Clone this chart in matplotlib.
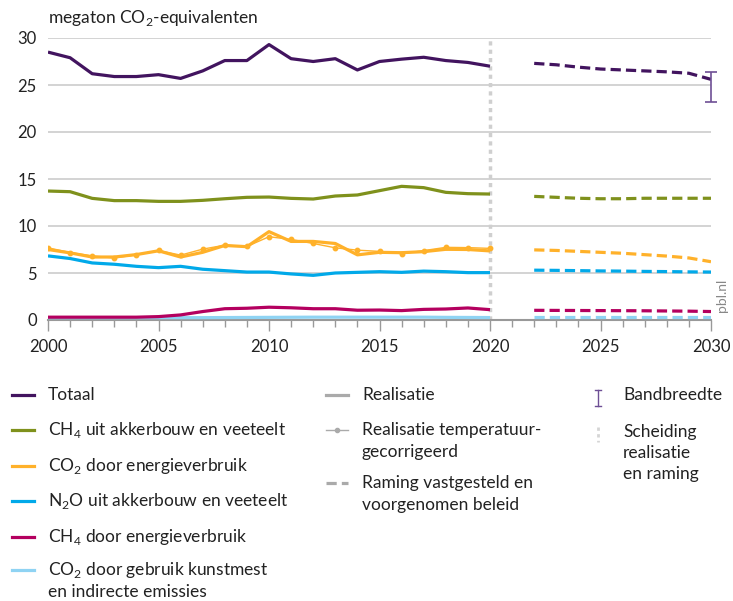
import matplotlib.pyplot as plt
from matplotlib.lines import Line2D
import numpy as np

plt.rcParams['font.family'] = ['Lato', 'DejaVu Sans']
plt.rcParams['mathtext.fontset'] = 'custom'
plt.rcParams['mathtext.rm'] = 'Lato'

years = np.arange(2000, 2021)
proj_years = np.arange(2022, 2031)

totaal = [28.5, 27.9, 26.2, 25.9, 25.9, 26.1, 25.7, 26.5, 27.6, 27.6, 29.3,
          27.8, 27.5, 27.8, 26.6, 27.5, 27.75, 27.95, 27.6, 27.4, 27.0]
ch4_landbouw = [13.72, 13.65, 12.94, 12.7, 12.7, 12.62, 12.62, 12.73, 12.9, 13.05, 13.08,
                12.94, 12.87, 13.19, 13.3, 13.76, 14.22, 14.08, 13.58, 13.44, 13.4]
co2_energie = [7.5, 7.14, 6.7, 6.7, 6.96, 7.36, 6.7, 7.2, 7.93, 7.8, 9.4,
               8.36, 8.36, 8.14, 6.93, 7.2, 7.16, 7.27, 7.52, 7.5, 7.35]
co2_energie_temp = [7.68, 7.18, 6.82, 6.6, 6.93, 7.4, 6.9, 7.54, 7.96, 7.82, 8.86,
                    8.57, 8.14, 7.68, 7.43, 7.3, 7.06, 7.38, 7.73, 7.7, 7.62]
n2o_landbouw = [6.82, 6.54, 6.07, 5.93, 5.71, 5.57, 5.71, 5.4, 5.25, 5.1, 5.1,
                4.9, 4.75, 5.0, 5.07, 5.14, 5.07, 5.2, 5.14, 5.04, 5.04]
ch4_energie = [0.3, 0.3, 0.3, 0.3, 0.3, 0.36, 0.54, 0.9, 1.2, 1.25, 1.36,
               1.3, 1.2, 1.2, 1.04, 1.06, 1.0, 1.13, 1.17, 1.28, 1.1]
co2_kunstmest = [0.25, 0.25, 0.25, 0.25, 0.25, 0.25, 0.25, 0.25, 0.26, 0.27, 0.28,
                 0.29, 0.3, 0.3, 0.3, 0.3, 0.3, 0.3, 0.28, 0.27, 0.26]

totaal_proj = [27.3, 27.15, 26.9, 26.7, 26.6, 26.5, 26.4, 26.25, 25.6]
ch4_landbouw_proj = [13.15, 13.05, 12.95, 12.9, 12.9, 12.95, 12.95, 12.95, 12.95]
co2_energie_proj = [7.46, 7.4, 7.3, 7.2, 7.1, 6.95, 6.8, 6.6, 6.2]
n2o_landbouw_proj = [5.3, 5.28, 5.25, 5.22, 5.2, 5.17, 5.15, 5.12, 5.1]
ch4_energie_proj = [1.03, 1.02, 1.01, 1.0, 0.99, 0.98, 0.96, 0.94, 0.9]
co2_kunstmest_proj = [0.28, 0.28, 0.28, 0.28, 0.28, 0.28, 0.28, 0.28, 0.28]

bandbreedte = (23.2, 26.4)

c_totaal = '#42145f'
c_ch4_lb = '#7f911c'
c_co2_en = '#ffb12a'
c_n2o = '#01a9e9'
c_ch4_en = '#b4005f'
c_kunstmest = '#8fd3f3'
c_band = '#6e4f95'
grey = '#999999'

fig = plt.figure(figsize=(7.33, 6.01), dpi=100)
ax = fig.add_axes([48 / 733, 1 - 320 / 601, (711 - 48) / 733, (320 - 38) / 601])

lw = 2.3
series = [
    (co2_kunstmest, co2_kunstmest_proj, c_kunstmest),
    (ch4_energie, ch4_energie_proj, c_ch4_en),
    (n2o_landbouw, n2o_landbouw_proj, c_n2o),
    (co2_energie, co2_energie_proj, c_co2_en),
    (ch4_landbouw, ch4_landbouw_proj, c_ch4_lb),
    (totaal, totaal_proj, c_totaal),
]
for real, proj, col in series:
    ax.plot(years, real, color=col, lw=lw, solid_capstyle='butt', zorder=3)
    ax.plot(proj_years, proj, color=col, lw=lw, dashes=(3.2, 1.6), zorder=3)

ax.plot(years, co2_energie_temp, color=c_co2_en, lw=1.0, marker='o', ms=3.2, zorder=4)

# bandwidth for the total in 2030
mid = np.mean(bandbreedte)
ax.errorbar([2030], [mid], yerr=[[mid - bandbreedte[0]], [bandbreedte[1] - mid]],
            color=c_band, lw=1.2, capsize=4, capthick=1.2, zorder=5, clip_on=False)

# separation between realisation and projection
ax.axvline(2020, color='#cfcfcf', lw=2.5, ls=(0, (1.2, 1.2)), zorder=2)

ax.set_xlim(2000, 2030)
ax.set_ylim(0, 30)
ax.set_yticks(range(0, 31, 5))
ax.set_xticks(range(2000, 2031, 5))
ax.set_xticks(range(2000, 2031), minor=True)
ax.grid(axis='y', color='#cccccc', lw=1.2, zorder=0)
for s in ['top', 'right', 'left']:
    ax.spines[s].set_visible(False)
ax.spines['bottom'].set_color(grey)
ax.spines['bottom'].set_linewidth(1.5)
ax.tick_params(axis='y', length=0, pad=8, labelsize=12, labelcolor='#222222')
ax.tick_params(axis='x', which='major', length=8, color=grey, width=1, pad=6,
               labelsize=12, labelcolor='#222222')
ax.tick_params(axis='x', which='minor', length=5, color=grey, width=1)

fig.text(48 / 733, 1 - 18 / 601, 'megaton CO$_\\mathregular{2}$-equivalenten', fontsize=12.5,
         color='#222222', va='center', ha='left')
fig.text(722 / 733, 1 - 295 / 601, 'pbl.nl', rotation=90, fontsize=10, color='#888888',
         ha='center', va='center')

# legend, three columns in figure pixels
fs = 12.5


def fy(y):
    return 1 - y / 601


def leg_text(x, y, s):
    fig.text(x / 733, fy(y), s, fontsize=fs, color='#222222', va='center', ha='left')


def leg_line(x0, x1, y0, y1, col, **kw):
    fig.add_artist(Line2D([x0 / 733, x1 / 733], [fy(y0), fy(y1)], color=col,
                          transform=fig.transFigure, **kw))


col1 = [
    ('Totaal', c_totaal),
    ('CH$_\\mathregular{4}$ uit akkerbouw en veeteelt', c_ch4_lb),
    ('CO$_\\mathregular{2}$ door energieverbruik', c_co2_en),
    ('N$_\\mathregular{2}$O uit akkerbouw en veeteelt', c_n2o),
    ('CH$_\\mathregular{4}$ door energieverbruik', c_ch4_en),
    ('CO$_\\mathregular{2}$ door gebruik kunstmest', c_kunstmest),
]
row_y = [395, 430, 466, 501, 537, 570]
for (label, col), y in zip(col1, row_y):
    leg_line(12, 34, y, y, col, lw=2.3)
    leg_text(48, y, label)
leg_text(48, 592, 'en indirecte emissies')

leg_line(326, 348, 395, 395, '#aaaaaa', lw=2.3)
leg_text(362, 395, 'Realisatie')
leg_line(326, 348, 430, 430, '#aaaaaa', lw=1.0)
fig.add_artist(Line2D([337 / 733], [fy(430)], color='#aaaaaa', marker='o', ms=3,
                      transform=fig.transFigure))
leg_text(362, 430, 'Realisatie temperatuur-')
leg_text(362, 452, 'gecorrigeerd')
leg_line(326, 348, 483, 483, '#aaaaaa', lw=2.3, dashes=(3.2, 1.6))
leg_text(362, 483, 'Raming vastgesteld en')
leg_text(362, 505, 'voorgenomen beleid')

leg_line(598, 598, 390, 406, c_band, lw=1.0)
for yy in (390, 406):
    leg_line(595, 601, yy, yy, c_band, lw=1.0)
leg_text(623, 395, 'Bandbreedte')
leg_line(598, 598, 427, 442, '#d5d5d5', lw=2.0, ls=(0, (1.2, 1.2)))
leg_text(623, 432, 'Scheiding')
leg_text(623, 453, 'realisatie')
leg_text(623, 474, 'en raming')

fig.savefig('out.png', dpi=100)
